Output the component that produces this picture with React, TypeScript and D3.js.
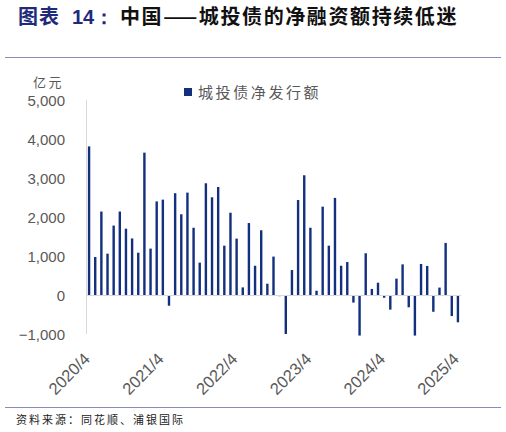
import * as d3 from "d3";

const months: string[] = [];
for (let y = 2020; y <= 2025; y++) {
  for (let m = 1; m <= 12; m++) {
    if ((y === 2020 && m < 4) || (y === 2025 && m > 4)) continue;
    months.push(`${y}/${m}`);
  }
}

// 城投债净发行额（亿元）
const netIssuance = [
  3810, 975, 2140, 1060, 1780, 2140, 1700, 1450, 1085, 3650, 1190, 2400,
  2445, -275, 2610, 2070, 2625, 1725, 830, 2865, 2505, 2770, 1265, 2110,
  1445, 195, 1845, 750, 1660, 290, 985, -30, -1000, 640, 2435, 3070,
  1725, 110, 2265, 1265, 2490, 750, 845, -195, -1040, 1070, 155, 315,
  -70, -375, 420, 785, -315, -1040, 795, 745, -430, 190, 1335, -540, -700,
];

const tickLabels = ["2020/4", "2021/4", "2022/4", "2023/4", "2024/4", "2025/4"];
const yTicks = [-1000, 0, 1000, 2000, 3000, 4000, 5000];

const W = 506;
const H = 432;
const num = "'Liberation Sans', Arial, sans-serif";
const cjk = "'Noto Sans CJK SC', sans-serif";

export default function App() {
  const x = d3.scaleBand<string>().domain(months).range([86, 461]);
  const y = d3.scaleLinear().domain([-1000, 5000]).range([334, 100]);
  const fmt = d3.format(",");
  const bw = 2.4;

  return (
    <svg
      width={W}
      height={H}
      style={{ position: "absolute", left: 0, top: 0, background: "#fff" }}
    >
      <g fontFamily={cjk} fontSize={20} fontWeight="bold">
        <text x={18} y={24} fill="#1f2a7a" letterSpacing={1}>图表</text>
        <text x={72} y={24} fill="#1f2a7a" fontFamily={num}>14：</text>
        <text x={120} y={24} fill="#111" letterSpacing={1.6}>中国——城投债的净融资额持续低迷</text>
      </g>
      <line x1={5} x2={501} y1={57.5} y2={57.5} stroke="#8a8cc0" strokeWidth={1} />

      <text x={33} y={87} fontFamily={cjk} fontSize={13} fill="#595959" letterSpacing={2.5}>
        亿元
      </text>
      {yTicks.map((t) => (
        <text
          key={t}
          x={65}
          y={y(t) + 5.5}
          textAnchor="end"
          fontFamily={num}
          fontSize={15}
          fill="#595959"
        >
          {fmt(t)}
        </text>
      ))}
      <line x1={86.5} x2={86.5} y1={100} y2={334} stroke="#d9d9d9" />

      <rect x={184} y={88} width={8} height={8} fill="#13307f" />
      <text x={198} y={98} fontFamily={cjk} fontSize={15} fill="#595959" letterSpacing={2.6}>
        城投债净发行额
      </text>

      {netIssuance.map((v, i) => {
        const cx = (x(months[i]) ?? 0) + x.bandwidth() / 2;
        return (
          <rect
            key={months[i]}
            x={cx - bw / 2}
            y={Math.min(y(v), y(0))}
            width={bw}
            height={Math.abs(y(v) - y(0))}
            fill="#13307f"
          />
        );
      })}
      <line x1={86} x2={461} y1={y(0) + 0.5} y2={y(0) + 0.5} stroke="#d9d9d9" />

      {tickLabels.map((lab) => {
        const cx = (x(lab) ?? 0) + x.bandwidth() / 2;
        return (
          <text
            key={lab}
            transform={`translate(${cx + 2},${360}) rotate(-45)`}
            textAnchor="end"
            fontFamily={num}
            fontSize={16.5}
            fill="#595959"
          >
            {lab}
          </text>
        );
      })}

      <line x1={5} x2={501} y1={407.5} y2={407.5} stroke="#8a8cc0" strokeWidth={1} />
      <text x={16} y={424} fontFamily={cjk} fontSize={11} fill="#222" letterSpacing={2}>
        资料来源：同花顺、浦银国际
      </text>
    </svg>
  );
}
